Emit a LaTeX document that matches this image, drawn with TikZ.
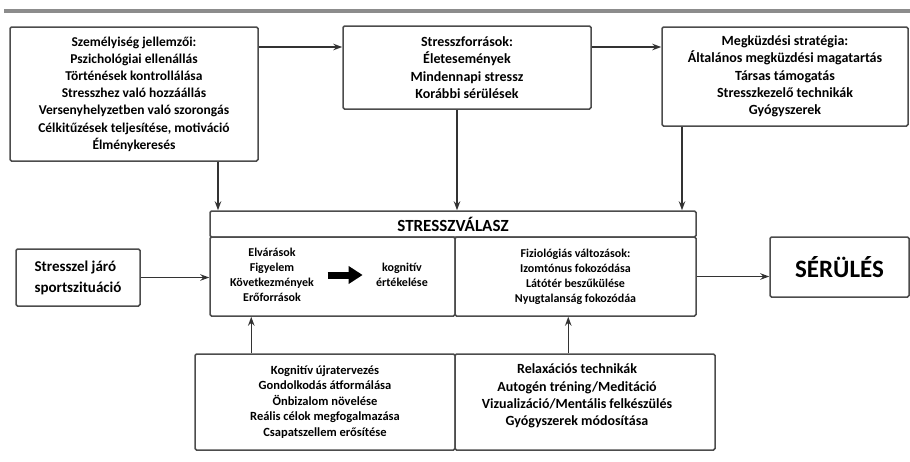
\documentclass[tikz,border=0pt]{standalone}
\usepackage{fontspec}
\setmainfont{Carlito}
\usetikzlibrary{arrows.meta,calc}

\begin{document}
\begin{tikzpicture}[
    x=1pt, y=-1pt,
    font=\bfseries\fontsize{14}{17.3}\selectfont,
    box/.style={rectangle, rounded corners=1.5pt, draw=black!70, line width=1.5pt, align=center, fill=white, inner sep=0pt, minimum width=#1},
    small/.style={font=\bfseries\fontsize{12}{15}\selectfont, align=center},
    arr/.style={-{Stealth[length=9pt,width=6.5pt]}, line width=1.3pt, draw=black!80},
    bigarr/.style={-{Triangle[length=14pt,width=17pt]}, line width=7pt, draw=black}
]
\useasboundingbox (0,0) rectangle (910,461);

% Top rule
\draw[line width=3.5pt, draw=black!45] (4,11) -- (910,11);

% Top row: three factor boxes
\node[box=248pt, minimum height=134pt, font=\bfseries\fontsize{13.5}{17.2}\selectfont] (pers) at (134,94) {Személyiség jellemzői:\\ Pszichológiai ellenállás\\ Történések kontrollálása\\ Stresszhez való hozzáállás\\ Versenyhelyzetben való szorongás\\ Célkitűzések teljesítése, motiváció\\ Élménykeresés};
\node[box=248pt, minimum height=83pt] (forr) at (467,67.5) {Stresszforrások:\\ Életesemények\\ Mindennapi stressz\\ Korábbi sérülések};
\node[box=246pt, minimum height=99pt] (strat) at (785,76.5) {Megküzdési stratégia:\\ Általános megküzdési magatartás\\ Társas támogatás\\ Stresszkezelő technikák\\ Gyógyszerek};

% Stress response block
\node[box=486pt, minimum height=26pt, font=\bfseries\fontsize{17}{20}\selectfont] (valasz) at (453,224) {STRESSZVÁLASZ};
\node[box=245pt, minimum height=79pt] (kogn) at (332.5,276.5) {};
\node[box=241pt, minimum height=79pt, small] (fiz) at (575.5,276.5) {Fiziológiás változások:\\ Izomtónus fokozódása\\ Látótér beszűkülése\\ Nyugtalanság fokozódáa};
\node[small] (elv) at (272,275) {Elvárások\\ Figyelem\\ Következmények\\ Erőforrások};
\node[small] (ert) at (402,275) {kognitív\\ értékelése};

% Left and right boxes
\node[box=124pt, minimum height=57pt, align=left, font=\bfseries\fontsize{15}{21}\selectfont] (sport) at (78,277.5) {Stresszel járó\\ sportszituáció};
\node[box=139pt, minimum height=60pt, font=\bfseries\fontsize{25}{30}\selectfont] (ser) at (839.5,267) {SÉRÜLÉS};

% Bottom row: interventions
\node[box=260pt, minimum height=96pt, font=\bfseries\fontsize{12.5}{15.5}\selectfont] (kogt) at (325,402) {Kognitív újratervezés\\ Gondolkodás átformálása\\ Önbizalom növelése\\ Reális célok megfogalmazása\\ Csapatszellem erősítése};
\node[box=260pt, minimum height=96pt] (relax) at (585,402) {};
\node[align=center] (relaxt) at (577,396) {Relaxációs technikák\\ Autogén tréning/Meditáció\\ Vizualizáció/Mentális felkészülés\\ Gyógyszerek módosítása};

% Arrows
\coordinate (toprow) at (0,47);
\draw[arr] (pers.east |- toprow) -- (forr.west |- toprow);
\draw[arr] (forr.east |- toprow) -- (strat.west |- toprow);
\draw[arr] ([xshift=84pt]pers.south) -- ([xshift=84pt]pers.south |- valasz.north);
\draw[arr] ([xshift=-10pt]forr.south) -- ([xshift=-10pt]forr.south |- valasz.north);
\draw[arr] ([xshift=-103pt]strat.south) -- ([xshift=-103pt]strat.south |- valasz.north);
\draw[arr] (sport.east) -- (sport.east -| kogn.west);
\draw[arr] (fiz.east) -- (fiz.east -| ser.west);
\draw[bigarr] ([xshift=10pt]elv.east) -- ([xshift=-10pt]ert.west);
\draw[arr] ([xshift=57pt]kogt.north west) -- ([xshift=57pt]kogt.north west |- kogn.south);
\draw[arr] ([xshift=114pt]relax.north west) -- ([xshift=114pt]relax.north west |- fiz.south);

\end{tikzpicture}
\end{document}
